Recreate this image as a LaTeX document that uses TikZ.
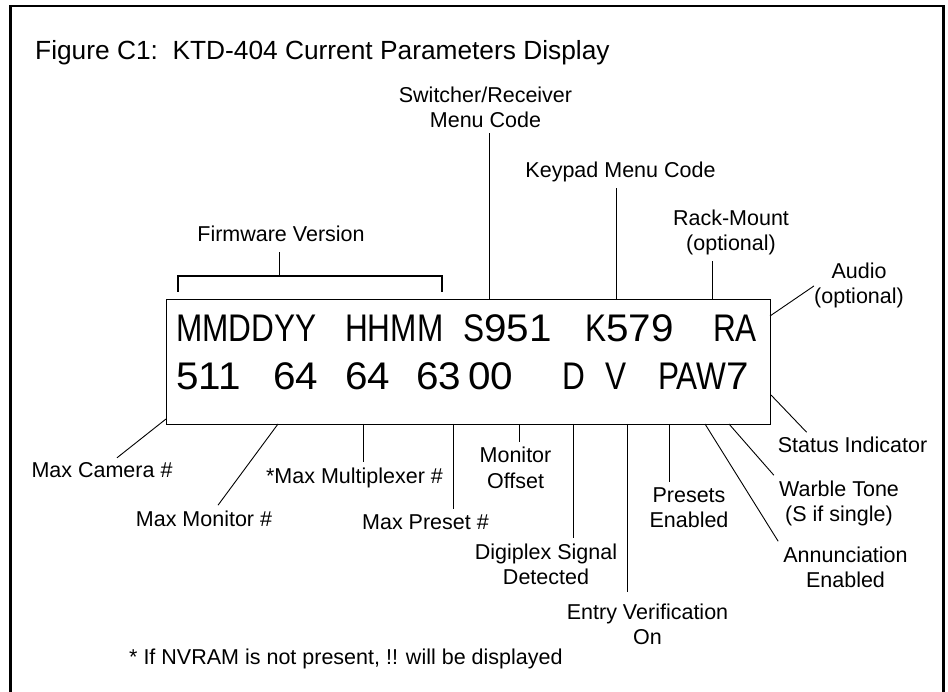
\documentclass[tikz,border=0pt]{standalone}
\usepackage{fontspec}
\setmainfont{Liberation Sans}
\newfontfamily\lcdfont[FakeStretch=1.05]{Liberation Sans}
\newfontfamily\lcdnarrow[FakeStretch=0.82]{Liberation Sans}
\newcommand{\nar}[1]{{\lcdnarrow #1}}
\newcommand{\grp}[2]{\makebox[#1][l]{#2}}

\begin{document}
\begin{tikzpicture}[x=1pt,y=-1pt,
  lbl/.style={font=\fontsize{21.5}{25}\selectfont,align=center,inner sep=5pt,anchor=base},
  row/.style={font=\fontsize{38.5}{40}\selectfont\lcdfont,anchor=base west,inner sep=0pt},
  panel/.style={draw,line width=1.3pt,minimum width=604pt,minimum height=125pt,
    anchor=north west,inner sep=0pt},
  wire/.style={line width=0.9pt}]
 \useasboundingbox (0,0) rectangle (948,692);
 \draw[line width=2.5pt] (10.5,692) -- (10.5,6) -- (943.5,6) -- (943.5,692);
 \node[anchor=base west,inner sep=0pt,font=\fontsize{26.3}{30}\selectfont] (title) at (35,60)
   {Figure C1:\ \ KTD-404 Current Parameters Display};
 \node[panel] (disp) at (166,299) {};
 \node[row] (toprow) at (176,342)
   {\grp{169pt}{\nar{MMDDYY}}\grp{118pt}{\nar{HHMM}}\grp{122pt}{\nar{S}951}\grp{128pt}{\nar{K}579}\nar{RA}};
 \node[row] (botrow) at (176,390)
   {\grp{97pt}{511}\grp{72pt}{64}\grp{71pt}{64}\grp{52pt}{63}\grp{94pt}{00}\grp{43pt}{\nar{D}}\grp{53pt}{\nar{V}}\nar{PAW}7};
 \node[lbl] (firmware) at (281,242) {Firmware Version};
 \node[lbl] (switcher) at (485.5,128) {Switcher/Receiver\\Menu Code};
 \node[lbl] (keypad) at (620.5,178) {Keypad Menu Code};
 \node[lbl] (rack) at (731,251) {Rack-Mount\\(optional)};
 \node[lbl] (audio) at (859,304) {Audio\\(optional)};
 \node[lbl] (camera) at (102,478) {Max Camera \#};
 \node[lbl] (monitor) at (204,526) {Max Monitor \#};
 \node[lbl] (mux) at (354.5,483) {*Max Multiplexer \#};
 \node[lbl] (preset) at (425.5,529) {Max Preset \#};
 \node[lbl] (offset) at (515.5,488) {Monitor\\Offset};
 \node[lbl] (digiplex) at (546,584) {Digiplex Signal\\Detected};
 \node[lbl] (entry) at (647.5,644) {Entry Verification\\On};
 \node[lbl] (presets) at (689,527) {Presets\\Enabled};
 \node[lbl] (annun) at (845.5,587) {Annunciation\\Enabled};
 \node[lbl] (warble) at (839,521) {Warble Tone\\(S if single)};
 \node[lbl] (status) at (852.5,453) {Status Indicator};
 \node[lbl,anchor=base west,inner sep=0pt] (note) at (129,664)
   {* If NVRAM is not present, !! will be displayed};
 \coordinate (fwleft) at (178,292);
 \coordinate (fwright) at (442,292);
 \coordinate (fwmid) at (279,276);
 \coordinate (swpin) at (489,299);
 \coordinate (keypin) at (616,299);
 \coordinate (rackpin) at (712,299);
 \coordinate (audiopin) at (770,316);
 \coordinate (statuspin) at (771,395);
 \coordinate (campin) at (166,419);
 \coordinate (monpin) at (278,424);
 \coordinate (muxpin) at (363,424);
 \coordinate (presetpin) at (453,424);
 \coordinate (offsetpin) at (519,424);
 \coordinate (digipin) at (573,424);
 \coordinate (entrypin) at (627,424);
 \coordinate (presetspin) at (669,424);
 \coordinate (annunpin) at (705,424);
 \coordinate (warblepin) at (729,424);
 \draw[line width=1.3pt] (fwleft) |- (fwmid) -| (fwright);
 \draw[wire,shorten >=5pt] (fwmid) -- (fwmid |- firmware.south);
 \draw[wire] (swpin) -- (swpin |- switcher.south);
 \draw[wire] (keypin) -- (keypin |- keypad.south);
 \draw[wire] (rackpin) -- (rackpin |- rack.south);
 \draw[wire] (audiopin) -- ([xshift=5pt]audio.west);
 \draw[wire] (statuspin) -- ([xshift=34pt]status.north west);
 \draw[wire] (campin) -- ([xshift=15pt]camera.north);
 \draw[wire] (monpin) -- ([xshift=14pt]monitor.north);
 \draw[wire] (muxpin) -- (muxpin |- mux.north);
 \draw[wire] (presetpin) -- (presetpin |- preset.north);
 \draw[wire] (offsetpin) -- (offsetpin |- offset.north);
 \draw[wire] (digipin) -- (digipin |- digiplex.north);
 \draw[wire,shorten >=6pt] (entrypin) -- (entrypin |- entry.north);
 \draw[wire] (presetspin) -- (presetspin |- presets.north);
 \draw[wire] (annunpin) -- (annun.north west);
 \draw[wire] (warblepin) -- (warble.north west);
\end{tikzpicture}
\end{document}
